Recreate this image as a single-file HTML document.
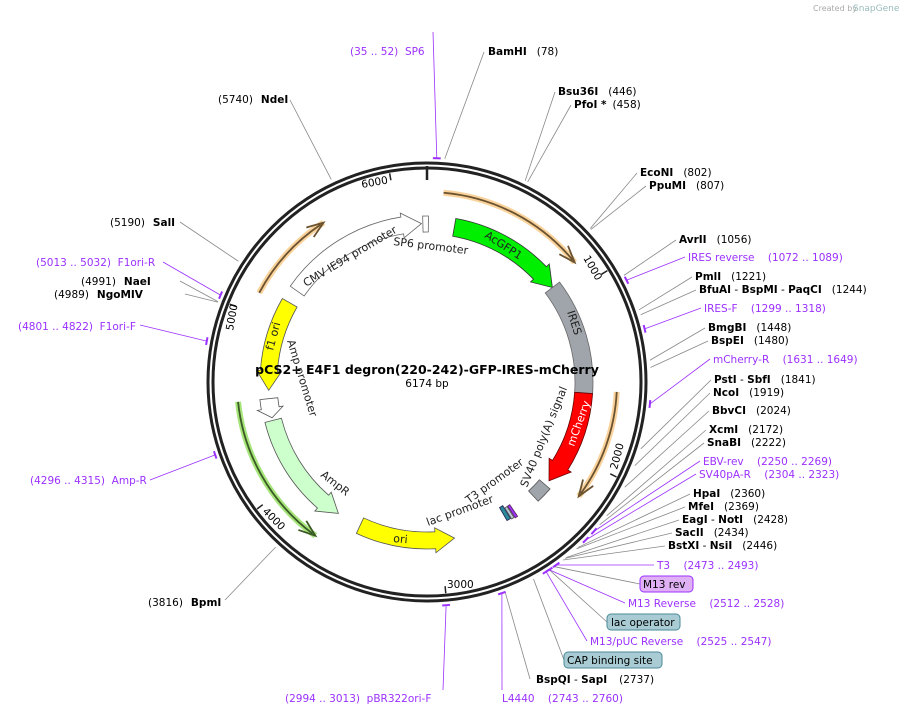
<!DOCTYPE html>
<html><head><meta charset="utf-8">
<style>
html,body{margin:0;padding:0;background:#fff;}
svg{display:block;font-family:"DejaVu Sans","Liberation Sans",sans-serif;}
.n{font-weight:bold;font-size:10.5px;fill:#000}
.v{font-size:10.5px;fill:#000}
.p{font-size:10.5px;fill:#9b30ff}
.f{font-size:11px;fill:#222}
</style></head><body>
<svg id="s" width="910" height="715" viewBox="0 0 910 715" xmlns="http://www.w3.org/2000/svg">
<g id="shapes"></g>
<text x="813" y="11" font-size="8" fill="#aaa">Created by</text><text x="853" y="11" font-size="9" fill="#9bb">SnapGene</text>
<!-- title -->
<text x="427" y="374" text-anchor="middle" font-weight="bold" font-size="12.5">pCS2+ E4F1 degron(220-242)-GFP-IRES-mCherry</text>
<text x="427" y="387" text-anchor="middle" font-size="10.5">6174 bp</text>
<!-- ticks -->
<text x="362" y="188" font-size="10.5" transform="rotate(-10 362 188)">6000</text>
<text x="583" y="258" font-size="10.5" transform="rotate(60 583 258)">1000</text>
<text x="617" y="470" font-size="10.5" transform="rotate(-75 617 470)">2000</text>
<text x="447" y="588" font-size="10.5">3000</text>
<text x="262" y="512" font-size="10.5" transform="rotate(45 262 512)">4000</text>
<text x="233" y="331" font-size="10.5" transform="rotate(-80 233 331)">5000</text>
<!-- feature labels -->
<text x="484" y="237" class="f" transform="rotate(33 484 237)">AcGFP1</text>
<text x="567" y="312" class="f" transform="rotate(72 567 312)">IRES</text>
<text x="574" y="447" class="f" fill="#fff" style="fill:#fff" transform="rotate(-70 574 447)">mCherry</text>
<text x="527" y="488" class="f" transform="rotate(-68 527 488)">SV40 poly(A) signal</text>
<text x="306" y="287" class="f" transform="rotate(-31 306 287)">CMV IE94 promoter</text>
<text x="393" y="245" class="f" transform="rotate(7 393 245)">SP6 promoter</text>
<text x="273" y="351" class="f" transform="rotate(-75 273 351)">f1 ori</text>
<text x="287" y="341" class="f" transform="rotate(73 287 341)">Amp promoter</text>
<text x="320" y="476" class="f" transform="rotate(38 320 476)">AmpR</text>
<text x="393" y="542" class="f" transform="rotate(5 393 542)">ori</text>
<text x="469" y="504" class="f" transform="rotate(-36 469 504)">T3 promoter</text>
<text x="428" y="526" class="f" transform="rotate(-20 428 526)">lac promoter</text>
<!-- site labels right -->
<text x="350" y="55" class="p">(35 .. 52)&#160;&#160;SP6</text>
<text x="488" y="55"><tspan class="n">BamHI</tspan><tspan class="v" dx="10">(78)</tspan></text>
<text x="558" y="95"><tspan class="n">Bsu36I</tspan><tspan class="v" dx="10">(446)</tspan></text>
<text x="574" y="108"><tspan class="n">PfoI *</tspan><tspan class="v" dx="6">(458)</tspan></text>
<text x="640" y="176"><tspan class="n">EcoNI</tspan><tspan class="v" dx="10">(802)</tspan></text>
<text x="649" y="189"><tspan class="n">PpuMI</tspan><tspan class="v" dx="10">(807)</tspan></text>
<text x="679" y="243"><tspan class="n">AvrII</tspan><tspan class="v" dx="10">(1056)</tspan></text>
<text x="688" y="261" class="p">IRES reverse&#160;&#160;&#160;&#160;(1072 .. 1089)</text>
<text x="695" y="280"><tspan class="n">PmlI</tspan><tspan class="v" dx="10">(1221)</tspan></text>
<text x="699" y="293"><tspan class="n">BfuAI</tspan><tspan class="v"> - </tspan><tspan class="n">BspMI</tspan><tspan class="v"> - </tspan><tspan class="n">PaqCI</tspan><tspan class="v" dx="10">(1244)</tspan></text>
<text x="704" y="312" class="p">IRES-F&#160;&#160;&#160;&#160;(1299 .. 1318)</text>
<text x="708" y="331"><tspan class="n">BmgBI</tspan><tspan class="v" dx="10">(1448)</tspan></text>
<text x="711" y="344"><tspan class="n">BspEI</tspan><tspan class="v" dx="10">(1480)</tspan></text>
<text x="713" y="363" class="p">mCherry-R&#160;&#160;&#160;&#160;(1631 .. 1649)</text>
<text x="714" y="383"><tspan class="n">PstI</tspan><tspan class="v"> - </tspan><tspan class="n">SbfI</tspan><tspan class="v" dx="10">(1841)</tspan></text>
<text x="713" y="396"><tspan class="n">NcoI</tspan><tspan class="v" dx="10">(1919)</tspan></text>
<text x="712" y="414"><tspan class="n">BbvCI</tspan><tspan class="v" dx="10">(2024)</tspan></text>
<text x="709" y="433"><tspan class="n">XcmI</tspan><tspan class="v" dx="10">(2172)</tspan></text>
<text x="707" y="446"><tspan class="n">SnaBI</tspan><tspan class="v" dx="10">(2222)</tspan></text>
<text x="703" y="465" class="p">EBV-rev&#160;&#160;&#160;&#160;(2250 .. 2269)</text>
<text x="699" y="478" class="p">SV40pA-R&#160;&#160;&#160;&#160;(2304 .. 2323)</text>
<text x="693" y="497"><tspan class="n">HpaI</tspan><tspan class="v" dx="10">(2360)</tspan></text>
<text x="688" y="510"><tspan class="n">MfeI</tspan><tspan class="v" dx="10">(2369)</tspan></text>
<text x="682" y="523"><tspan class="n">EagI</tspan><tspan class="v"> - </tspan><tspan class="n">NotI</tspan><tspan class="v" dx="10">(2428)</tspan></text>
<text x="675" y="536"><tspan class="n">SacII</tspan><tspan class="v" dx="10">(2434)</tspan></text>
<text x="668" y="549"><tspan class="n">BstXI</tspan><tspan class="v"> - </tspan><tspan class="n">NsiI</tspan><tspan class="v" dx="10">(2446)</tspan></text>
<text x="657" y="569" class="p">T3&#160;&#160;&#160;&#160;(2473 .. 2493)</text>
<rect x="640" y="576" width="53" height="16" rx="4" fill="#e0b0f5" stroke="#9b30ff"/>
<text x="643" y="588" class="v">M13 rev</text>
<text x="628" y="607" class="p">M13 Reverse&#160;&#160;&#160;&#160;(2512 .. 2528)</text>
<rect x="607" y="614" width="73" height="16" rx="4" fill="#a9ccd4" stroke="#4a8a98"/>
<text x="611" y="626" class="v">lac operator</text>
<text x="590" y="645" class="p">M13/pUC Reverse&#160;&#160;&#160;&#160;(2525 .. 2547)</text>
<rect x="564" y="652" width="98" height="16" rx="4" fill="#a9ccd4" stroke="#4a8a98"/>
<text x="567" y="664" class="v">CAP binding site</text>
<text x="536" y="683"><tspan class="n">BspQI</tspan><tspan class="v"> - </tspan><tspan class="n">SapI</tspan><tspan class="v" dx="12">(2737)</tspan></text>
<text x="502" y="702" class="p">L4440&#160;&#160;&#160;&#160;(2743 .. 2760)</text>
<!-- left labels -->
<text x="285" y="702" class="p">(2994 .. 3013)&#160;&#160;pBR322ori-F</text>
<text x="148" y="606"><tspan class="v">(3816)</tspan><tspan class="n" dx="8">BpmI</tspan></text>
<text x="30" y="484" class="p">(4296 .. 4315)&#160;&#160;Amp-R</text>
<text x="18" y="330" class="p">(4801 .. 4822)&#160;&#160;F1ori-F</text>
<text x="54" y="298"><tspan class="v">(4989)</tspan><tspan class="n" dx="8">NgoMIV</tspan></text>
<text x="81" y="285"><tspan class="v">(4991)</tspan><tspan class="n" dx="8">NaeI</tspan></text>
<text x="36" y="266" class="p">(5013 .. 5032)&#160;&#160;F1ori-R</text>
<text x="110" y="226"><tspan class="v">(5190)</tspan><tspan class="n" dx="8">SalI</tspan></text>
<text x="218" y="103"><tspan class="v">(5740)</tspan><tspan class="n" dx="8">NdeI</tspan></text>
</svg>
<script>
(function(){
var cx=427,cy=382,NS="http://www.w3.org/2000/svg",g=document.getElementById("shapes");
function P(r,d){var a=d*Math.PI/180;return [cx+r*Math.sin(a),cy-r*Math.cos(a)];}
function el(t,at){var e=document.createElementNS(NS,t);for(var k in at)e.setAttribute(k,at[k]);g.appendChild(e);return e;}
function arc(r,a1,a2){var p1=P(r,a1),p2=P(r,a2),cw=a2>a1?1:0,large=Math.abs(a2-a1)>180?1:0;
 return "M"+p1[0]+","+p1[1]+" A"+r+","+r+" 0 "+large+" "+cw+" "+p2[0]+","+p2[1];}
function feat(a1,a2,r1,r2,fill,arrow,stroke){ // a1 start, a2 tip
 var dir=a2>a1?1:-1,h=arrow?dir*Math.min(7,Math.abs(a2-a1)*0.5):0,ab=a2-h,rm=(r1+r2)/2,w=(r2-r1);
 var o1=P(r2,a1),o2=P(r2,ab),i2=P(r1,ab),i1=P(r1,a1);
 var d="M"+o1+" A"+r2+","+r2+" 0 0 "+(dir>0?1:0)+" "+o2;
 if(arrow){var oo=P(r2+4,ab),tp=P(rm,a2),ii=P(r1-4,ab);d+=" L"+oo+" L"+tp+" L"+ii+" L"+i2;}
 else d+=" L"+i2;
 d+=" A"+r1+","+r1+" 0 0 "+(dir>0?0:1)+" "+i1+" Z";
 el("path",{d:d,fill:fill,stroke:stroke||"#555","stroke-width":0.8});}
function oarc(a1,a2,halo,line){ // a2 tip
 el("path",{d:arc(190,a1,a2),fill:"none",stroke:halo,"stroke-width":6});
 var dir=a2>a1?1:-1;el("path",{d:arc(190,a1,a2-dir*1),fill:"none",stroke:line,"stroke-width":1.8});
 var t=P(190,a2),b=P(190,a2-dir*5),o=P(196,a2-dir*5),i=P(184,a2-dir*5);
 el("path",{d:"M"+o+" L"+t+" L"+i,fill:"none",stroke:line,"stroke-width":1.8});}
function lead(p,x,y,c){var a=p/6174*360,s=P(224,a);el("line",{x1:s[0],y1:s[1],x2:x,y2:y,stroke:c||"#888","stroke-width":0.8});}
// leaders
var L=[[78,484,52],[446,555,92],[458,571,105],[802,637,173],[807,646,186],[1056,676,240],[1221,692,277],[1244,696,290],[1448,705,328],[1480,708,341],[1841,711,380],[1919,710,393],[2024,709,411],[2172,706,430],[2222,704,443],[2360,690,494],[2369,685,507],[2428,679,520],[2434,672,533],[2446,665,546],[2495,640,584],[2520,607,622],[2737,530,679],[3816,225,600],[4989,185,294],[4991,180,281],[5190,180,222],[5740,290,100],[2600,564,660]];
L.forEach(function(l){lead(l[0],l[1],l[2]);});
var Lp=[[43,433,32],[1080,685,257],[1308,701,308],[1640,710,359],[2260,700,461],[2313,696,474],[2483,654,565],[2520,625,603],[2536,587,641],[2752,502,690],[3003,443,690],[4305,150,480],[4811,140,325],[5022,163,262]];
Lp.forEach(function(l){lead(l[0],l[1],l[2],"#9b30ff");});
// circle
el("circle",{cx:cx,cy:cy,r:219,fill:"#fff",stroke:"#222","stroke-width":3});
el("circle",{cx:cx,cy:cy,r:214,fill:"none",stroke:"#222","stroke-width":3});
el("line",{x1:427,y1:166,x2:427,y2:180,stroke:"#222","stroke-width":2.5});
[1000,2000,3000,4000,5000,6000].forEach(function(p){var a=p/6174*360,s=P(212,a),e=P(205,a);el("line",{x1:s[0],y1:s[1],x2:e[0],y2:e[1],stroke:"#222","stroke-width":1.5});});
// purple brackets
[43,1080,1308,1640,2260,2313,2483,2520,2536,2752,3003,4305,4811,5022].forEach(function(p){var a=p/6174*360;el("path",{d:arc(224,a-1,a+1),fill:"none",stroke:"#9b30ff","stroke-width":2});});
// orange / green arcs
oarc(5,51,"#f9d39b","#6b5230");
oarc(93,127,"#f9d39b","#6b5230");
oarc(298,327,"#f9d39b","#6b5230");
oarc(264,216,"#a6e57a","#3b5a25");
// features
feat(305,358,150,167,"#fff",true,"#666");
feat(358.5,360.5,150,166,"#fff",false,"#666");
feat(10,53,148,166,"#00ee00",true,"#333");
feat(53,94,148,166,"#a0a4ab",false,"#666");
feat(94,129,148,166,"#ff0000",true,"#600");
feat(131,137,149,163,"#a0a4ab",false,"#555");
feat(300,267,150,167,"#ffff00",true,"#555");
feat(264,257,150,168,"#fff",true,"#555");
feat(256,214,150,167,"#ccffcc",true,"#555");
feat(205,170,150,167,"#ffff00",true,"#555");
feat(150,148.5,145,160,"#2a8a98",false,"#225");
feat(147,146,148,162,"#9b30ff",false,"#525");
feat(148.3,147.3,148,161,"#bcd",false,"#555");
})();
</script>
</body></html>
